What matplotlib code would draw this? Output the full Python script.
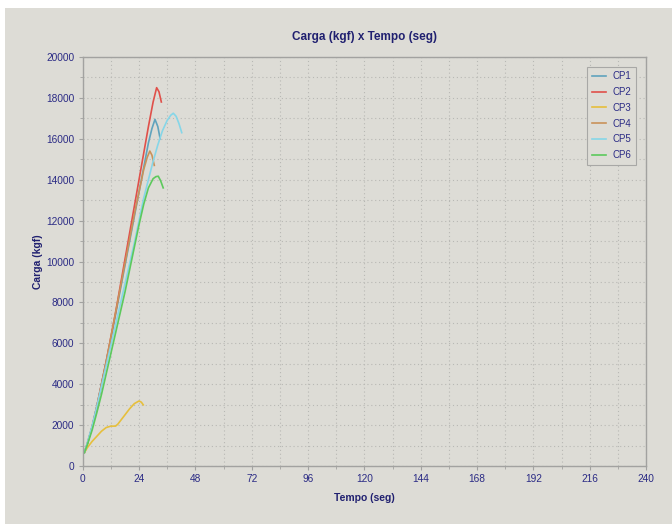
import matplotlib
matplotlib.use("Agg")
import matplotlib.pyplot as plt
from matplotlib.ticker import MultipleLocator
from matplotlib.patches import Rectangle

plt.rcParams['font.family'] = ['Liberation Sans', 'DejaVu Sans']

# ensaios de compressao - carga x tempo
cp1_t = [0.7, 2, 4, 6, 8, 10, 12, 14, 16, 18, 20, 22, 24, 26, 28, 29.5, 30.8, 32, 33]
cp1_c = [650, 1100, 1900, 2900, 4000, 5100, 6200, 7400, 8600, 9800, 11000, 12200, 13400, 14600, 15800, 16500, 16950, 16600, 16000]

cp2_t = [0.7, 2, 4, 6, 8, 10, 12, 14, 16, 18, 20, 22, 24, 26, 28, 30, 31.5, 32.5, 33.5]
cp2_c = [650, 1100, 1900, 2900, 4000, 5100, 6300, 7500, 8800, 10100, 11400, 12700, 14000, 15300, 16600, 17800, 18500, 18300, 17800]

cp3_t = [0.7, 2, 4, 6, 8, 10, 12, 14, 15, 16, 18, 20, 22, 24, 25, 25.8]
cp3_c = [650, 900, 1200, 1450, 1700, 1880, 1950, 1950, 2050, 2200, 2500, 2800, 3050, 3180, 3120, 2990]

cp4_t = [0.7, 2, 4, 6, 8, 10, 12, 14, 16, 18, 20, 22, 24, 26, 27.5, 28.6, 29.5, 30.5]
cp4_c = [650, 1100, 1900, 2900, 4000, 5100, 6300, 7500, 8700, 9900, 11100, 12300, 13400, 14500, 15100, 15400, 15200, 14700]

cp5_t = [0.7, 2, 4, 6, 8, 10, 12, 14, 16, 18, 20, 22, 24, 26, 28, 30, 32, 34, 36, 37.5, 38.6, 39.8, 41, 42.2]
cp5_c = [650, 1150, 1950, 2900, 3900, 4900, 5900, 6900, 7900, 8900, 9900, 10900, 12000, 13100, 14000, 14900, 15700, 16400, 16900, 17150, 17250, 17100, 16750, 16300]

cp6_t = [0.7, 2, 4, 6, 8, 10, 12, 14, 16, 18, 20, 22, 24, 26, 28, 30, 31.2, 32.2, 33.2, 34.3]
cp6_c = [650, 1050, 1750, 2600, 3500, 4500, 5500, 6500, 7500, 8500, 9600, 10700, 11800, 12800, 13600, 14050, 14150, 14170, 13950, 13600]

series = [
    ("CP1", cp1_t, cp1_c, "#5fa3bd"),
    ("CP2", cp2_t, cp2_c, "#e0504a"),
    ("CP3", cp3_t, cp3_c, "#e6bf3c"),
    ("CP4", cp4_t, cp4_c, "#c9925a"),
    ("CP5", cp5_t, cp5_c, "#86d6e8"),
    ("CP6", cp6_t, cp6_c, "#5cc95c"),
]

bg = "#dddcd6"
navy = "#2b2b85"

fig = plt.figure(figsize=(6.72, 5.24), dpi=100, facecolor="white")
fig.patches.append(Rectangle((5 / 672, 0), 1, 1 - 8 / 524, transform=fig.transFigure,
                             facecolor=bg, edgecolor="none", zorder=-10))
ax = fig.add_axes([82.7 / 672, 58 / 524, (646 - 82.7) / 672, (466 - 57) / 524])
ax.set_facecolor(bg)

for name, t, c, col in series:
    ax.plot(t, c, color=col, lw=1.2, label=name)

ax.set_xlim(0, 240)
ax.set_ylim(0, 20000)
ax.xaxis.set_major_locator(MultipleLocator(24))
ax.xaxis.set_minor_locator(MultipleLocator(12))
ax.yaxis.set_major_locator(MultipleLocator(2000))
ax.yaxis.set_minor_locator(MultipleLocator(1000))
ax.grid(which="both", color="#b8b8b4", linestyle=(0, (1, 2.5)), lw=0.8)

for s in ax.spines.values():
    s.set_color("#a2a2a0")
    s.set_linewidth(1.0)
ax.tick_params(which="major", length=3, color="#a2a2a0", labelsize=7.3, labelcolor=navy, pad=3)
ax.tick_params(which="minor", length=2, color="#a2a2a0")

ax.set_title("Carga (kgf) x Tempo (seg)", fontsize=8.5, fontweight="bold", color="#202070", pad=12)
ax.set_xlabel("Tempo (seg)", fontsize=7.5, fontweight="bold", color="#202070", labelpad=6)
ax.set_ylabel("Carga (kgf)", fontsize=7.5, fontweight="bold", color="#202070", labelpad=2)

leg = ax.legend(loc="upper right", bbox_to_anchor=(0.99, 0.988), fontsize=7, frameon=True,
                fancybox=False, handlelength=1.5, handletextpad=0.6, labelspacing=0.6,
                borderpad=0.45, labelcolor=navy)
leg.get_frame().set_facecolor(bg)
leg.get_frame().set_edgecolor("#a8a8a6")
leg.get_frame().set_linewidth(0.8)
leg.get_frame().set_alpha(1)

fig.savefig("out.png", dpi=100, facecolor=fig.get_facecolor())
